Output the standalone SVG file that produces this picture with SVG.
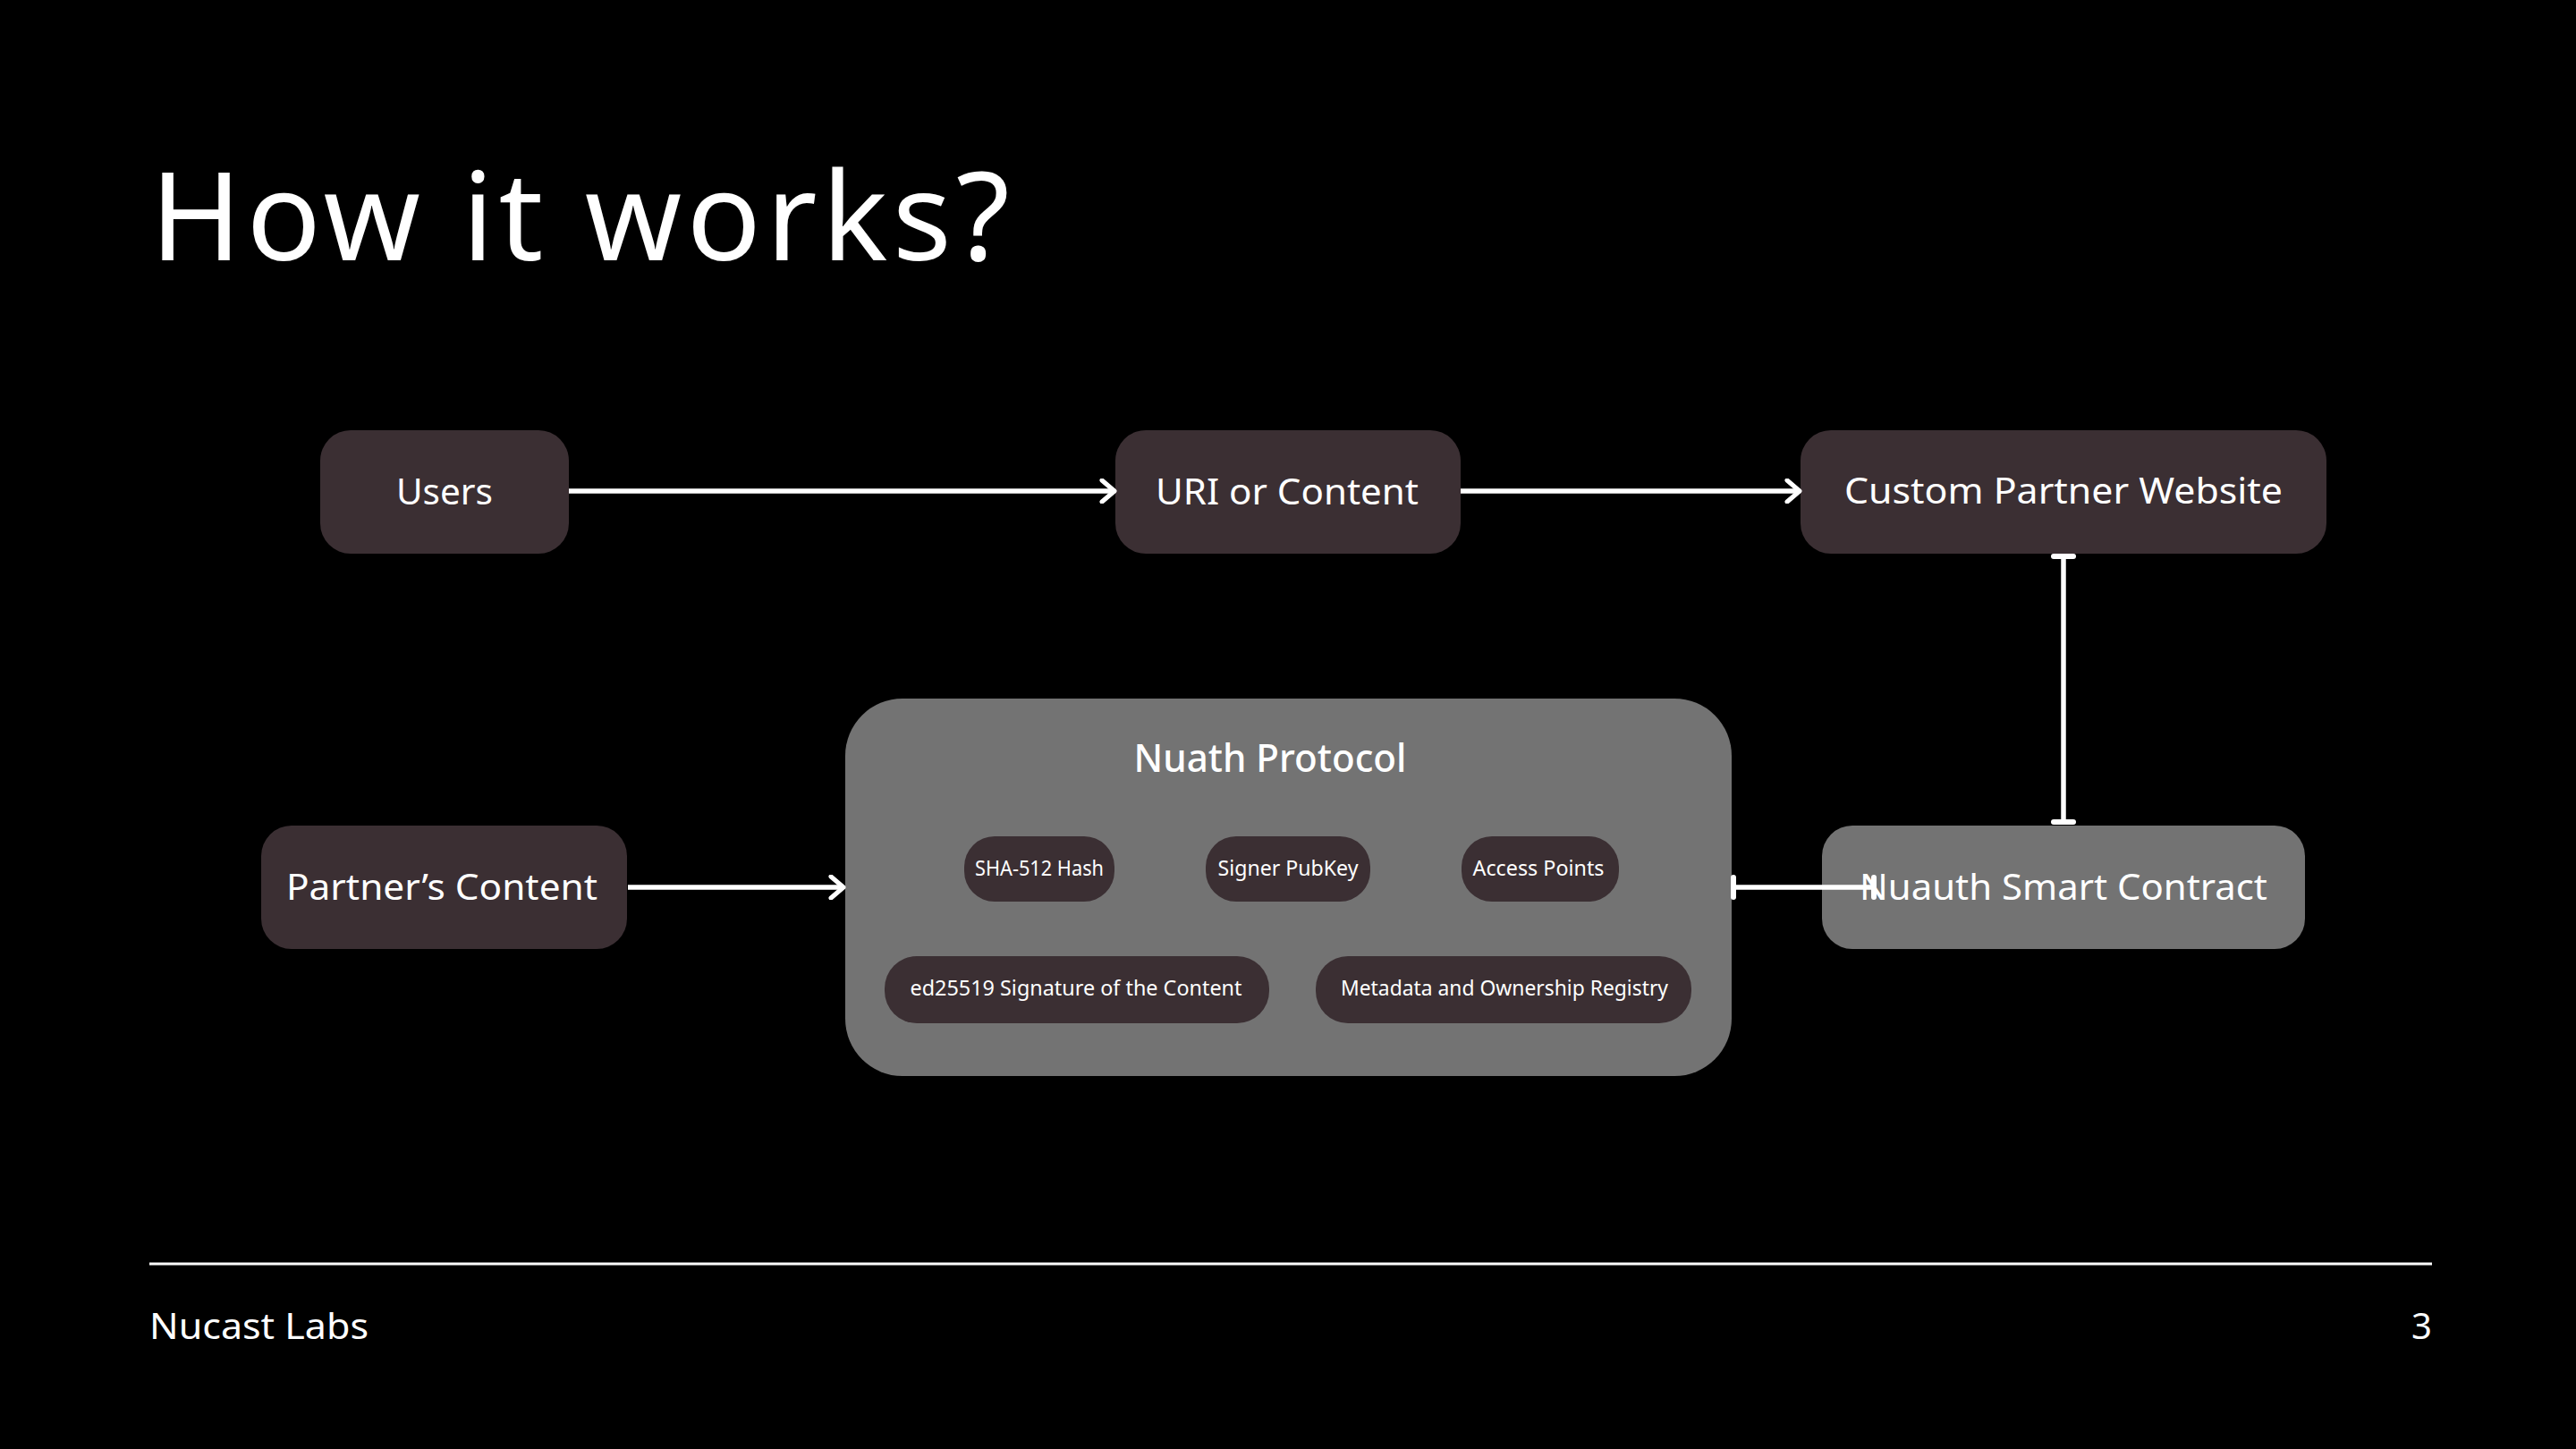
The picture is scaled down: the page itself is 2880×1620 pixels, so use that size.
<svg xmlns="http://www.w3.org/2000/svg" width="2880" height="1620" viewBox="0 0 2880 1620">
<style>
  .node { fill: #3b2f33; }
  .gray { fill: #737373; }
  .t { fill: #ffffff; font-family: "Noto Sans", "Open Sans", "Liberation Sans", sans-serif; }
  .lbl { font-size: 40px; text-anchor: middle; }
  .pill { font-size: 23px; text-anchor: middle; }
  .conn { stroke: #ffffff; stroke-width: 5.5; fill: none; }
</style>
<defs>
  <marker id="arrow" viewBox="0 0 20 28" refX="17" refY="14" markerWidth="20" markerHeight="28" orient="auto" markerUnits="userSpaceOnUse">
    <path d="M3,2 L17,14 L3,26" fill="none" stroke="#ffffff" stroke-width="5" stroke-linecap="round" stroke-linejoin="round"/>
  </marker>
  <marker id="tbar" viewBox="-5 -15 10 30" refX="0" refY="0" markerWidth="10" markerHeight="30" orient="auto" markerUnits="userSpaceOnUse">
    <path d="M0,-11 L0,11" fill="none" stroke="#ffffff" stroke-width="6" stroke-linecap="round"/>
  </marker>
</defs>
<rect x="0" y="0" width="2880" height="1620" fill="#000000"/>

<text class="t" x="168" y="291" font-size="138" textLength="961" lengthAdjust="spacing">How it works?</text>

<g id="users">
  <rect class="node" x="358" y="481" width="278" height="138" rx="34"/>
  <text class="t lbl" x="497" y="564" textLength="108" lengthAdjust="spacingAndGlyphs">Users</text>
</g>
<g id="uri-or-content">
  <rect class="node" x="1247" y="481" width="386" height="138" rx="34"/>
  <text class="t lbl" x="1439" y="564" textLength="294" lengthAdjust="spacingAndGlyphs">URI or Content</text>
</g>
<g id="custom-partner-website">
  <rect class="node" x="2013" y="481" width="588" height="138" rx="34"/>
  <text class="t lbl" x="2307" y="563" textLength="490" lengthAdjust="spacingAndGlyphs">Custom Partner Website</text>
</g>
<g id="partners-content">
  <rect class="node" x="292" y="923" width="409" height="138" rx="34"/>
  <text class="t lbl" x="494" y="1006" textLength="348" lengthAdjust="spacingAndGlyphs">Partner’s Content</text>
</g>

<g id="nuath-protocol">
  <rect class="gray" x="945" y="781" width="991" height="422" rx="64"/>
  <text class="t" x="1420" y="863" font-size="43" text-anchor="middle" font-weight="500" textLength="305" lengthAdjust="spacingAndGlyphs">Nuath Protocol</text>
  <g id="sha-512-hash">
    <rect class="node" x="1078" y="935" width="168" height="73" rx="34"/>
    <text class="t pill" x="1162" y="979" textLength="144" lengthAdjust="spacingAndGlyphs">SHA-512 Hash</text>
  </g>
  <g id="signer-pubkey">
    <rect class="node" x="1348" y="935" width="184" height="73" rx="34"/>
    <text class="t pill" x="1440" y="979" textLength="157" lengthAdjust="spacingAndGlyphs">Signer PubKey</text>
  </g>
  <g id="access-points">
    <rect class="node" x="1634" y="935" width="176" height="73" rx="34"/>
    <text class="t pill" x="1720" y="979" textLength="147" lengthAdjust="spacingAndGlyphs">Access Points</text>
  </g>
  <g id="ed25519-signature">
    <rect class="node" x="989" y="1069" width="430" height="75" rx="36"/>
    <text class="t pill" x="1203" y="1113" textLength="371" lengthAdjust="spacingAndGlyphs">ed25519 Signature of the Content</text>
  </g>
  <g id="metadata-registry">
    <rect class="node" x="1471" y="1069" width="420" height="75" rx="36"/>
    <text class="t pill" x="1682" y="1113" textLength="366" lengthAdjust="spacingAndGlyphs">Metadata and Ownership Registry</text>
  </g>
</g>

<g id="nuauth-smart-contract">
  <rect class="gray" x="2037" y="923" width="540" height="138" rx="34"/>
  <text class="t lbl" x="2307" y="1006" textLength="456" lengthAdjust="spacingAndGlyphs">Nuauth Smart Contract</text>
</g>

<g id="connectors">
  <line class="conn" x1="636" y1="549" x2="1246" y2="549" marker-end="url(#arrow)"/>
  <line class="conn" x1="1633" y1="549" x2="2012" y2="549" marker-end="url(#arrow)"/>
  <line class="conn" x1="702" y1="992" x2="943" y2="992" marker-end="url(#arrow)"/>
  <line class="conn" x1="2307" y1="622" x2="2307" y2="919" marker-start="url(#tbar)" marker-end="url(#tbar)"/>
  <line class="conn" x1="1938" y1="992" x2="2095" y2="992" marker-start="url(#tbar)" marker-end="url(#tbar)"/>
</g>

<line x1="167" y1="1413" x2="2719" y2="1413" stroke="#ffffff" stroke-width="3"/>
<text class="t" x="167" y="1497" font-size="40" textLength="245" lengthAdjust="spacingAndGlyphs">Nucast Labs</text>
<text class="t" x="2719" y="1497" font-size="40" text-anchor="end">3</text>
</svg>
